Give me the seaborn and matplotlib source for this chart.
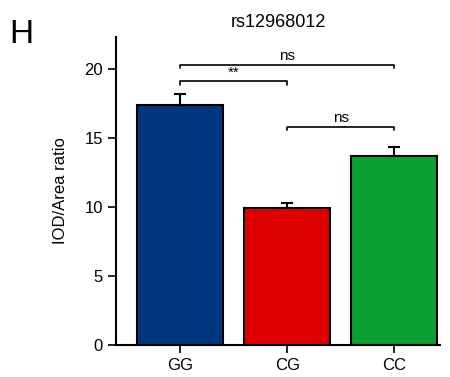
import numpy as np
import pandas as pd
import seaborn as sns
from matplotlib import pyplot as plt

genotypes = ['GG', 'CG', 'CC']
ratio_mean = [17.35, 9.95, 13.65]
ratio_sem = [0.85, 0.35, 0.65]
bar_colors = ['#003580', '#dd0000', '#0a9f30']

# comparisons: (left index, right index, y level, label)
comparisons = [(0, 2, 20.3, 'ns'), (0, 1, 19.1, '**'), (1, 2, 15.8, 'ns')]

df = pd.DataFrame({'genotype': genotypes, 'ratio': ratio_mean, 'sem': ratio_sem})

sns.set_style('ticks')
plt.rcParams['font.family'] = ['Liberation Sans', 'DejaVu Sans']
plt.rcParams['text.color'] = 'black'
plt.rcParams['axes.labelcolor'] = 'black'
plt.rcParams['xtick.color'] = 'black'
plt.rcParams['ytick.color'] = 'black'

fig = plt.figure(figsize=(4.5, 3.77), dpi=100)
ax = fig.add_axes([0.258, 0.085, 0.72, 0.817])

sns.barplot(data=df, x='genotype', y='ratio', hue='genotype', palette=bar_colors,
            order=genotypes, width=0.8, edgecolor='black', linewidth=1.5,
            saturation=1, errorbar=None, legend=False, ax=ax)
ax.errorbar(np.arange(len(genotypes)), df['ratio'], yerr=[np.zeros(3), df['sem']],
            fmt='none', ecolor='black', elinewidth=1.5, capsize=4, capthick=1.5, zorder=1)

for i, j, y, lab in comparisons:
    ax.plot([i, i, j, j], [y - 0.25, y, y, y - 0.25], color='black', lw=1.2)
    ax.text((i + j) / 2, y + 0.1, lab, ha='center', va='bottom', fontsize=11)

ax.set_xlim(-0.6, 2.43)
ax.set_ylim(0, 22.3)
ax.set_yticks([0, 5, 10, 15, 20])
ax.set_xlabel('')
ax.set_ylabel('IOD/Area ratio', fontsize=12, labelpad=12)
ax.tick_params(labelsize=12, width=1.2, length=6)
for s in ['left', 'bottom']:
    ax.spines[s].set_linewidth(1.5)
    ax.spines[s].set_color('black')
sns.despine(ax=ax)
ax.set_title('rs12968012', fontsize=13, pad=7)
fig.text(0.02, 0.95, 'H', fontsize=24, va='top')

fig.savefig('out.png', dpi=100)
